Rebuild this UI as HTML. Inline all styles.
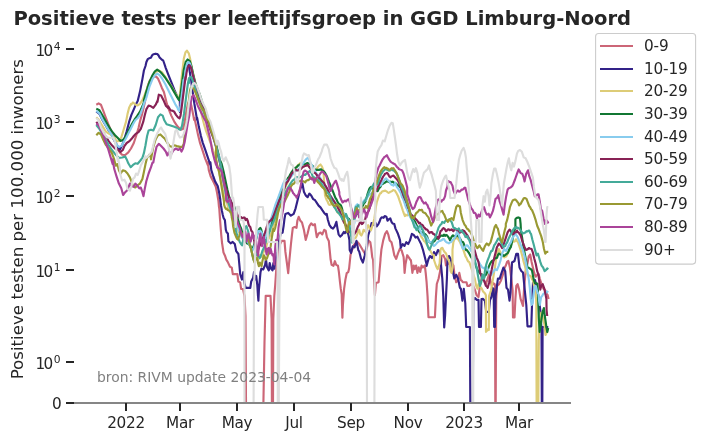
<!DOCTYPE html>
<html lang="nl"><head><meta charset="utf-8"><title>Positieve tests per leeftijfsgroep in GGD Limburg-Noord</title>
<style>html,body{margin:0;padding:0;background:#fff;}svg{display:block;will-change:transform;}text{font-family:"DejaVu Sans","Liberation Sans",sans-serif;fill:#262626;}.tk{font-size:15.28px;letter-spacing:-0.3px;}.lg{font-size:15.28px;letter-spacing:-0.15px;}.sup{font-size:10.7px;}.ln{fill:none;stroke-width:2.15;stroke-linejoin:round;stroke-linecap:butt;}</style></head><body>
<svg width="704" height="441" viewBox="0 0 704 441">
<rect width="704" height="441" fill="#fff"/>
<text x="13.40" y="25.00" style="font-size:19.55px;font-weight:bold;">Positieve tests per leeftijfsgroep in GGD Limburg-Noord</text>
<text transform="translate(22.80,219.20) rotate(-90)" text-anchor="middle" style="font-size:16.67px;">Positieve testen per 100.000 inwoners</text>
<defs><clipPath id="ax"><rect x="73.8" y="30" width="497" height="373.6"/></clipPath></defs>
<g clip-path="url(#ax)">
<polyline class="ln" stroke="#CC6677" points="96.3,104.7 98.6,103.4 100.9,104.7 103.3,110.9 105.6,117.2 108.0,123.5 110.3,128.9 112.7,133.6 115.0,139.9 117.4,146.9 119.7,152.4 122.1,154.7 125.2,155.0 128.3,152.4 131.0,148.5 133.8,143.0 136.1,136.0 138.5,128.1 140.3,120.3 142.1,114.1 143.6,107.8 145.0,101.6 147.5,86.9 149.4,81.4 151.4,78.4 153.9,76.8 156.1,76.5 157.9,78.4 159.9,82.9 161.9,87.9 163.9,91.9 165.4,97.9 166.9,103.9 168.2,107.8 171.3,115.6 174.4,121.9 177.6,126.6 180.7,129.7 183.0,128.9 184.6,121.9 186.2,112.5 187.7,104.7 188.8,102.0 189.6,101.5 190.4,102.9 191.4,105.9 192.4,110.9 193.4,115.9 194.1,119.9 194.4,117.7 196.3,126.6 198.2,135.6 200.1,143.2 202.7,150.9 205.2,158.6 207.8,165.0 207.8,162.4 208.8,170.1 210.7,176.5 213.3,181.6 215.8,186.7 217.1,193.1 218.4,200.7 219.0,207.1 219.3,208.9 219.9,217.6 220.4,224.4 221.3,235.5 222.0,242.6 223.5,252.6 224.9,255.4 226.3,259.7 227.7,261.9 230.0,266.7 231.8,267.6 232.8,274.1 237.4,274.1 238.3,281.5 240.2,282.4 241.1,288.9 243.0,289.0 244.5,296.0 245.5,316.0 246.0,403.5 263.4,403.5 264.5,342.0 265.7,295.8 270.5,295.8 271.6,319.0 271.9,403.5 273.0,403.5 273.3,319.0 274.3,296.0 275.2,285.2 276.2,270.4 277.1,261.2 278.0,251.9 279.9,244.5 281.7,240.9 284.5,240.9 285.4,251.9 286.9,263.0 288.2,273.2 289.1,263.0 290.0,253.8 290.9,244.5 291.9,235.3 292.8,227.9 294.6,227.0 296.5,227.9 297.4,220.5 298.7,216.8 300.2,220.5 302.0,222.4 303.9,229.8 305.7,239.9 307.6,233.5 309.4,226.1 311.2,223.3 313.1,225.2 314.9,224.2 315.9,231.6 316.8,237.2 318.6,233.5 320.5,232.5 322.3,234.4 324.2,229.8 325.7,230.7 326.9,237.2 328.8,240.9 329.7,250.1 330.6,259.3 331.6,264.9 333.4,265.8 334.9,261.2 336.2,264.9 338.0,265.8 338.9,272.2 339.9,281.5 340.8,288.9 341.7,294.4 342.0,305.0 342.4,317.6 342.9,305.0 344.1,288.9 345.4,279.6 346.7,273.2 348.2,272.2 349.1,268.6 350.5,255.0 352.0,250.0 353.7,245.5 355.5,243.0 357.4,242.0 359.2,244.0 361.0,247.0 363.0,250.5 364.8,253.3 366.6,249.6 368.5,240.4 370.3,242.2 371.2,247.8 372.2,257.0 373.1,260.0 374.0,278.5 374.9,295.1 375.9,283.1 378.6,282.2 379.5,271.1 380.5,260.0 380.5,258.9 381.4,249.6 383.2,240.4 385.1,233.9 386.9,231.2 388.4,234.9 389.7,240.4 391.5,242.2 392.8,247.8 394.3,255.2 396.2,258.9 398.0,253.3 399.9,248.7 401.7,250.6 403.6,257.0 404.0,262.0 404.6,273.0 405.5,264.0 407.2,255.2 409.1,257.9 410.9,260.7 410.9,260.0 412.4,272.9 413.7,265.5 414.6,269.2 416.1,265.5 417.4,272.9 418.7,267.4 420.2,272.0 421.6,265.5 422.9,267.4 424.8,265.5 425.7,272.9 426.6,282.2 427.6,296.9 428.5,317.2 434.9,317.2 435.9,296.9 436.8,284.0 438.6,278.5 440.1,271.1 441.4,260.0 441.4,256.1 443.3,255.2 445.1,258.9 446.0,265.3 448.0,264.0 450.0,262.0 452.0,263.0 453.4,265.5 454.3,272.9 456.2,282.2 458.0,280.3 459.3,272.9 460.8,280.3 461.5,280.4 462.8,282.2 466.5,282.2 467.4,285.9 469.2,285.9 471.1,284.1 473.3,285.9 474.8,289.6 476.6,295.2 478.5,297.0 479.9,285.9 481.2,280.4 482.5,274.9 484.0,280.4 485.9,284.1 487.7,278.6 489.2,273.9 490.5,280.4 491.8,285.9 493.2,283.2 494.7,284.1 495.0,286.0 495.3,403.5 495.7,403.5 496.2,300.0 497.0,286.0 499.1,284.1 501.0,280.4 502.8,274.9 504.3,268.4 505.8,265.6 507.1,261.9 508.4,261.0 509.9,267.5 511.3,278.6 512.6,290.0 513.0,317.5 514.5,317.5 515.4,299.0 516.3,285.9 517.6,284.1 519.1,289.6 520.6,298.9 521.9,302.6 523.0,306.0 524.0,290.0 525.6,271.2 527.4,263.8 528.7,256.4 530.2,254.5 531.6,261.9 532.9,267.5 534.2,273.0 535.7,276.7 537.2,274.9 538.5,273.9 539.8,278.6 540.9,282.2 542.2,285.9 543.5,288.7 544.9,289.6 546.4,293.3 547.7,295.2 548.6,298.9"/>
<polyline class="ln" stroke="#332288" points="96.3,111.3 99.4,113.8 102.5,119.9 105.6,125.3 108.8,130.8 111.9,135.7 114.2,140.3 116.6,145.0 118.6,148.0 120.0,149.4 122.1,145.3 124.4,139.1 126.7,131.3 129.1,121.9 131.4,114.9 133.8,109.4 136.1,103.9 137.7,101.0 140.0,91.6 142.4,79.1 143.9,70.5 145.5,66.0 146.4,62.0 147.7,59.2 149.1,58.3 150.9,57.8 152.3,55.1 153.6,54.2 155.5,53.7 157.3,54.0 158.6,55.5 159.5,57.4 160.9,58.7 162.3,60.1 163.2,60.5 164.1,63.0 165.8,68.1 168.2,74.4 171.3,82.2 174.4,90.0 177.6,97.1 179.9,101.0 179.9,107.0 179.9,112.0 180.0,110.0 181.2,103.0 182.6,94.0 184.0,84.0 185.4,75.0 186.6,68.5 187.6,65.2 188.4,64.3 189.0,66.0 189.5,69.9 190.4,75.9 191.4,81.9 191.9,87.9 192.4,90.0 193.4,96.9 194.4,103.9 195.4,109.9 196.4,115.9 197.1,119.9 197.1,117.7 198.8,126.6 200.8,135.6 202.7,142.6 205.2,149.6 207.8,157.3 210.4,165.0 210.4,162.4 211.3,170.1 213.3,176.5 215.2,181.6 217.7,186.0 219.0,191.8 220.3,199.5 220.3,200.3 221.0,205.5 221.9,210.7 222.8,215.0 223.6,218.0 224.9,220.1 225.3,224.4 225.8,229.6 226.6,232.2 227.9,233.5 228.4,241.2 230.6,243.3 232.7,241.9 234.8,244.0 236.2,251.1 238.4,254.0 239.2,263.0 240.2,274.1 242.0,279.6 243.3,272.2 244.4,283.3 245.7,287.9 250.3,287.9 251.2,281.5 253.1,277.8 254.0,272.2 254.9,279.6 256.2,275.9 257.3,285.2 258.0,296.0 258.4,300.6 258.9,290.0 260.5,272.2 261.4,268.6 263.2,269.5 265.1,264.9 266.0,259.3 266.9,266.7 268.8,270.4 269.7,263.0 271.0,268.6 272.5,270.4 273.4,263.0 274.3,268.6 275.2,261.2 277.1,251.9 278.9,240.9 280.8,233.5 282.6,232.5 283.6,226.1 284.5,218.7 285.4,213.9 288.2,212.9 290.9,215.7 293.7,213.9 295.6,208.3 297.4,200.9 299.2,193.6 301.1,186.2 302.4,183.4 303.9,191.7 305.7,195.4 307.6,197.2 309.4,193.6 311.2,195.4 313.1,199.1 314.9,200.0 316.8,202.8 318.6,205.6 320.5,207.4 322.3,210.2 324.2,212.9 326.0,214.8 326.7,213.9 327.8,219.5 329.5,225.2 331.2,227.5 333.0,228.6 334.7,226.4 336.4,221.8 337.5,228.6 338.6,234.3 340.3,236.6 342.0,234.9 343.8,232.0 344.9,233.2 346.6,230.9 348.3,234.3 349.4,240.0 349.7,250.1 351.0,252.9 352.8,246.4 354.6,247.3 356.5,240.9 358.3,250.1 359.2,251.5 361.1,258.9 362.9,262.6 364.8,255.2 366.6,245.9 367.6,240.0 368.2,235.5 369.3,232.0 370.5,227.5 371.6,223.0 372.7,224.1 374.4,225.2 375.6,223.0 376.7,226.4 378.4,224.1 379.5,221.8 380.7,218.4 381.8,217.3 383.5,217.8 384.7,216.1 386.4,216.7 387.5,220.7 388.6,219.5 390.3,218.4 391.5,221.8 392.6,223.5 394.3,224.1 395.5,228.6 396.6,230.9 397.7,233.2 398.9,236.6 400.0,240.0 400.8,247.8 402.6,244.1 404.5,245.9 406.3,242.2 408.2,244.1 410.0,240.4 411.9,233.9 413.7,234.9 415.6,237.6 417.4,236.7 419.2,240.4 421.1,244.1 422.9,249.6 424.8,257.0 426.6,264.4 426.6,266.0 427.4,263.0 428.5,259.0 430.0,256.0 432.0,258.0 434.0,252.0 436.0,255.0 438.0,250.0 439.6,251.5 440.5,258.9 441.4,269.2 442.3,278.5 443.3,296.9 444.2,327.4 445.1,315.4 446.0,296.9 446.9,278.5 447.5,259.0 449.0,256.0 450.6,258.9 452.5,269.2 454.3,278.5 456.2,274.8 458.0,278.5 459.9,287.7 460.9,288.8 462.4,300.6 463.8,288.8 465.3,303.5 466.2,327.0 469.9,327.0 470.3,403.5 472.8,403.5 473.3,300.0 475.0,298.0 476.6,299.8 478.5,299.8 479.0,327.0 480.9,327.0 481.5,299.0 483.1,298.9 484.9,300.7 486.2,312.0 488.8,312.0 490.0,300.0 491.4,297.0 492.6,288.0 493.6,289.0 494.2,327.0 494.9,327.0 495.6,296.0 497.9,278.6 499.7,278.6 501.5,273.0 503.4,267.5 505.2,271.2 506.5,287.8 508.0,289.6 509.5,300.7 510.5,292.5 512.0,262.5 514.5,261.0 516.3,253.8 518.0,253.8 519.5,267.5 521.3,271.0 523.0,272.5 524.5,287.5 526.3,305.0 527.5,326.3 531.3,326.3 532.0,305.0 533.0,282.5 535.0,280.0 537.0,288.0 539.0,300.0 540.5,312.0 541.5,330.0 541.8,403.5 542.3,403.5 542.6,327.0 548.3,327.0"/>
<polyline class="ln" stroke="#DDCC77" points="96.3,117.2 98.6,119.5 100.9,123.5 103.3,127.4 105.6,131.3 108.8,133.6 111.9,135.2 114.2,137.5 116.6,141.4 118.9,141.0 121.3,137.5 123.6,129.7 126.0,121.9 127.5,114.1 129.1,107.8 131.0,103.9 131.0,104.9 133.0,102.5 135.3,104.4 137.7,105.4 140.0,103.8 142.4,100.2 144.7,94.7 147.1,88.5 149.4,82.2 152.5,76.3 155.7,72.1 158.8,70.5 161.9,72.1 165.1,76.7 168.2,81.4 171.3,86.1 174.4,91.6 177.6,96.3 179.4,98.6 180.7,86.9 182.3,71.3 183.8,58.8 185.4,52.5 186.9,50.6 188.8,53.3 190.1,58.8 191.6,66.6 193.5,75.2 195.5,83.8 197.9,90.8 199.9,95.5 200.8,110.0 202.0,116.4 204.0,124.1 205.9,130.5 207.8,135.6 210.4,142.6 212.9,149.6 215.5,157.3 216.7,163.7 219.0,172.0 221.0,181.0 223.0,190.0 225.0,198.0 226.0,200.5 227.0,203.3 228.0,207.1 229.0,209.8 230.0,211.8 231.0,213.9 232.0,215.7 233.0,217.0 234.0,218.0 235.0,221.8 236.0,225.1 237.0,228.2 238.0,230.2 239.0,232.3 240.0,232.7 241.0,234.1 242.0,236.3 243.0,238.1 244.0,237.0 245.0,235.1 246.0,237.7 247.0,240.8 248.0,242.2 249.0,244.2 249.8,246.0 250.7,246.2 251.6,250.7 252.5,255.3 254.0,257.3 255.0,255.2 256.0,253.7 257.0,257.3 258.0,260.1 259.0,257.5 260.0,254.9 261.0,256.0 262.0,257.0 263.0,253.8 264.0,251.1 265.0,250.0 266.0,247.7 267.0,243.8 268.0,240.0 269.4,237.1 270.7,234.4 272.1,231.6 273.5,226.0 275.3,221.0 277.0,213.5 278.0,211.7 279.0,208.7 280.0,204.7 281.0,200.7 282.0,196.9 283.0,193.7 284.0,190.8 285.0,187.8 286.0,185.7 287.0,183.8 288.0,181.0 289.0,178.6 290.0,176.4 291.0,174.8 292.0,173.4 293.0,171.8 294.0,170.3 295.0,168.5 296.1,168.2 297.2,166.1 298.4,164.8 299.2,164.1 300.1,163.1 300.9,163.4 301.8,164.2 302.6,164.6 303.5,165.3 304.6,165.7 305.8,165.9 306.9,165.7 308.0,165.3 309.2,165.8 310.3,166.5 311.4,167.5 312.6,168.2 313.5,169.0 314.5,169.9 315.5,169.3 316.5,169.3 317.4,167.6 318.2,166.5 319.4,165.4 320.5,164.5 322.0,166.6 323.4,170.5 324.0,180.3 325.0,195.4 325.9,198.2 326.7,200.2 327.6,201.5 328.4,203.6 329.3,204.9 330.1,204.8 331.0,204.6 331.8,203.1 332.9,204.6 334.0,206.5 335.0,207.3 336.0,208.4 337.0,211.5 338.0,213.1 339.0,213.2 340.0,213.1 341.0,214.6 342.0,215.9 343.0,218.6 344.0,219.9 345.0,222.5 346.0,225.0 347.0,227.3 348.0,229.8 349.0,231.2 350.0,233.4 351.0,235.3 352.0,237.4 353.0,238.7 354.0,238.3 354.8,238.6 355.7,237.7 356.8,235.5 358.0,232.0 359.1,229.8 360.2,234.3 361.4,235.5 362.5,233.2 363.6,229.8 364.8,230.9 365.9,232.0 367.0,228.6 368.2,225.2 369.0,226.9 369.9,228.6 371.0,230.3 372.2,226.4 373.3,223.0 374.4,218.4 375.0,213.6 375.9,207.0 376.7,202.5 377.8,199.1 379.0,195.7 380.1,193.4 381.0,193.2 381.8,191.7 382.7,191.3 383.5,191.1 384.4,190.9 385.2,190.6 386.1,191.1 386.9,191.7 387.8,192.3 388.6,192.8 389.5,192.5 390.3,191.7 391.2,191.5 392.0,191.1 393.2,190.0 394.0,190.3 394.9,190.6 396.0,192.3 397.2,194.5 398.3,196.8 399.4,200.2 400.6,203.6 401.7,207.0 402.8,210.5 404.0,213.9 404.9,216.1 405.4,214.5 406.3,215.3 407.2,215.5 408.2,214.6 409.1,212.7 410.0,214.8 410.9,216.4 411.9,218.4 412.8,219.2 414.0,221.0 415.0,224.4 416.0,225.7 417.0,226.8 418.0,228.2 419.0,230.4 420.0,232.4 421.0,236.3 422.0,237.7 423.0,239.3 424.0,241.0 425.0,241.7 426.0,243.4 427.0,244.8 428.0,246.6 429.0,248.1 430.0,250.0 431.0,252.0 432.0,253.8 433.0,254.8 434.0,255.2 434.0,260.0 435.9,265.5 436.8,267.7 437.7,269.2 439.6,263.7 440.5,249.6 441.4,248.2 442.3,247.8 443.3,249.8 444.2,251.5 445.1,252.6 446.0,253.3 447.9,258.9 448.8,260.8 449.7,262.6 450.6,271.1 451.6,272.9 452.5,267.4 452.5,249.6 453.4,242.2 454.3,239.6 455.3,238.6 456.2,238.4 457.1,237.6 458.0,238.9 458.9,240.4 459.9,241.9 460.9,244.2 461.8,245.3 463.7,250.9 465.5,256.4 466.5,257.8 467.4,260.1 468.3,261.6 469.2,261.9 471.1,267.5 472.9,273.0 474.8,278.6 476.2,285.9 477.5,288.7 478.5,284.1 479.4,285.9 480.3,286.9 481.2,287.7 482.2,289.6 483.1,291.5 484.0,292.4 484.9,293.2 485.9,295.2 485.9,298.0 486.0,331.9 486.9,330.9 487.9,329.1 488.8,330.0 489.0,296.2 491.0,290.3 493.0,279.1 495.0,266.9 496.9,252.7 497.9,251.4 498.8,249.0 499.7,251.1 500.6,252.7 501.5,254.3 502.5,254.5 503.4,256.6 504.3,257.3 505.2,256.7 506.2,256.4 507.1,254.7 508.0,252.7 509.0,250.6 510.0,247.9 511.0,245.3 512.0,242.7 513.0,241.4 514.0,241.7 515.0,241.3 516.0,239.3 517.0,241.1 518.1,242.4 519.1,245.3 520.9,250.9 522.4,256.4 523.7,261.9 525.0,266.3 526.5,273.0 527.6,273.9 528.7,275.2 529.9,275.7 531.1,276.7 532.0,279.1 532.9,280.4 534.2,285.9 535.3,291.5 536.1,298.9 536.3,306.0 536.6,403.5 537.5,403.9 538.3,403.5 538.8,340.0 539.5,325.0 541.3,312.5 542.1,314.9 543.0,318.2 544.5,325.0 545.5,335.0 546.5,333.0 547.5,330.0 548.3,330.0"/>
<polyline class="ln" stroke="#117733" points="96.3,108.6 99.4,110.2 102.5,115.6 105.6,121.1 108.8,126.6 111.9,131.3 115.0,135.2 118.1,138.3 120.5,141.0 122.8,139.9 125.2,137.5 127.5,132.8 129.9,128.1 132.2,123.5 134.6,119.5 136.9,116.4 140.0,111.7 142.4,106.3 143.9,102.3 143.9,100.2 146.3,91.6 149.4,82.2 152.5,75.2 154.9,71.3 157.2,69.7 159.6,71.3 161.9,73.6 165.1,77.5 168.2,82.2 171.3,86.9 174.4,92.4 177.6,97.9 179.1,100.2 180.7,93.2 182.3,80.7 183.8,69.7 185.7,61.9 187.7,59.5 189.8,61.1 191.3,65.8 193.2,74.4 195.1,82.2 197.9,90.0 199.9,94.7 204.6,110.0 206.5,115.1 208.4,121.5 210.4,127.9 212.3,133.0 214.2,138.1 216.1,144.5 218.0,152.2 219.9,159.9 221.6,163.7 223.5,171.3 225.4,180.3 227.3,189.2 229.2,196.9 231.8,203.3 232.6,204.4 233.5,205.3 234.4,207.1 235.3,209.1 236.3,211.0 238.0,219.4 239.0,223.1 240.0,225.9 241.0,228.1 242.0,231.7 243.0,234.1 244.0,236.8 245.0,239.9 246.0,242.0 247.0,243.5 248.0,243.7 249.0,244.2 250.0,245.7 251.0,247.8 252.0,248.3 253.0,247.5 254.0,245.2 255.0,242.0 256.0,239.7 258.0,231.2 259.4,228.8 260.3,227.9 261.1,229.2 261.6,231.3 263.0,237.5 264.0,238.9 265.0,239.4 266.0,237.0 267.0,234.6 268.0,231.7 269.0,229.7 270.0,227.4 271.0,224.8 272.0,221.5 273.0,218.4 274.0,215.5 275.0,213.0 276.0,210.1 277.0,206.8 278.0,204.0 279.0,200.7 280.0,196.6 281.0,192.9 282.0,190.6 283.0,189.3 284.0,186.9 285.0,184.5 286.0,182.4 287.0,180.1 288.0,177.9 289.0,177.0 290.0,174.9 291.0,173.2 292.0,171.7 293.0,170.1 294.0,168.4 295.0,167.9 296.0,167.5 297.2,166.6 298.4,165.3 299.3,165.2 300.3,164.4 301.2,164.2 302.2,164.3 303.1,164.2 304.0,164.2 305.2,164.0 306.3,163.6 307.5,163.1 308.4,163.4 309.3,163.8 310.3,164.2 311.4,165.1 312.6,165.9 313.4,167.3 314.3,168.8 315.4,169.6 316.5,169.9 317.7,169.8 318.8,169.9 320.0,169.6 321.1,169.3 322.2,170.4 323.4,171.0 324.5,172.2 325.6,173.9 326.5,175.6 327.3,177.3 329.0,181.8 331.3,187.5 333.6,193.2 335.3,197.7 336.1,198.8 337.0,200.6 338.0,202.8 339.0,203.9 340.0,204.4 341.0,205.5 342.0,208.4 343.0,212.8 344.0,213.8 345.0,214.2 346.0,215.5 347.0,217.5 348.0,218.4 349.0,218.9 350.0,220.7 351.0,221.7 352.0,222.0 353.0,221.2 354.0,220.7 355.0,217.7 356.0,215.2 357.0,213.9 358.0,213.3 359.0,212.5 360.0,210.0 361.0,208.3 361.9,207.1 362.9,205.5 363.8,203.5 364.8,202.5 365.7,200.7 367.5,194.2 369.4,188.7 370.3,187.5 371.2,186.8 372.2,187.9 373.1,189.0 374.0,189.6 374.9,190.0 375.9,190.5 376.8,190.9 377.7,191.1 378.6,189.1 379.5,187.9 380.5,186.8 381.4,184.8 382.3,184.0 383.2,183.7 384.2,182.9 385.1,182.6 386.0,181.8 386.9,181.1 387.9,181.6 388.8,181.8 389.7,182.4 390.7,181.7 391.8,182.1 392.8,181.6 393.9,182.9 395.1,182.9 396.2,183.9 397.1,184.4 398.0,185.7 398.9,185.7 399.9,187.1 400.8,187.6 402.0,191.5 403.0,195.0 404.0,198.4 405.0,202.0 406.0,204.9 407.0,207.1 408.0,210.2 409.0,213.1 410.0,215.6 411.0,217.6 412.0,218.6 413.0,218.8 414.0,220.5 415.0,221.7 416.0,224.0 417.0,226.2 418.0,228.9 419.0,231.5 420.0,232.4 421.0,232.6 422.0,232.2 423.0,232.7 424.0,233.7 425.0,234.1 426.0,235.1 427.0,236.4 428.0,239.3 429.0,241.7 430.0,242.5 431.0,242.7 432.0,244.3 433.0,242.2 434.0,241.4 435.0,240.4 436.0,238.8 437.0,237.6 438.0,238.8 439.0,237.5 440.0,236.6 441.0,235.6 442.0,235.6 443.0,236.0 444.0,234.7 445.0,235.9 446.0,234.9 447.0,235.3 448.0,236.6 449.0,238.1 450.0,240.2 451.0,238.1 452.0,236.3 453.0,235.3 454.0,236.0 455.0,237.3 456.0,235.8 457.0,235.4 458.0,236.0 459.0,237.0 460.0,238.5 461.0,240.5 462.0,241.9 463.0,242.0 464.0,244.3 465.0,247.7 466.0,250.1 467.0,250.0 468.0,251.7 469.0,253.0 470.0,255.0 471.0,256.9 472.0,258.4 473.0,260.5 474.0,262.0 475.0,263.1 476.0,266.1 477.0,268.8 478.0,270.9 479.0,272.1 480.0,273.3 481.0,274.2 482.0,274.5 483.0,276.6 484.0,277.8 485.0,274.9 486.0,274.7 487.0,272.5 488.0,268.9 489.0,266.2 490.0,263.9 491.0,262.2 492.0,260.9 493.0,260.8 494.0,259.5 495.0,258.5 496.0,258.1 497.0,257.8 498.0,254.8 499.0,253.5 500.0,254.4 501.0,254.9 502.0,255.4 503.0,255.0 504.0,255.9 505.0,255.2 506.0,254.4 507.0,253.7 508.0,252.7 509.5,249.0 510.8,247.2 512.1,241.6 513.2,236.1 514.5,230.5 515.4,227.8 515.4,223.9 515.4,219.2 516.3,218.3 517.2,217.8 518.2,217.4 519.1,217.8 520.0,218.3 520.6,223.9 520.9,230.3 522.0,236.9 523.5,247.0 525.0,254.9 526.5,263.0 527.5,267.5 528.8,267.7 530.0,268.8 531.0,269.3 532.0,270.5 533.8,280.0 535.0,283.3 536.2,283.2 537.5,283.8 538.2,300.0 538.8,318.0 539.6,332.0 540.6,326.0 541.6,318.0 542.6,312.0 543.9,308.0 544.8,316.0 545.7,322.0 546.5,328.0 547.3,332.0 548.2,328.0"/>
<polyline class="ln" stroke="#88CCEE" points="96.3,110.9 99.4,113.3 102.5,119.5 105.6,125.0 108.8,130.5 111.9,135.2 114.2,139.9 116.6,144.6 118.9,146.9 121.3,146.1 123.6,142.2 126.0,138.3 128.3,133.6 130.7,128.9 133.0,124.2 135.3,120.3 137.7,118.0 140.0,114.9 142.4,108.6 144.4,102.3 144.7,101.8 146.3,97.9 149.4,86.9 152.5,79.1 154.9,75.2 157.2,73.6 159.6,75.2 161.9,78.3 165.1,83.8 168.2,90.0 171.3,96.3 175.2,104.1 177.6,108.0 178.0,109.4 179.5,110.9 180.5,105.9 181.5,97.9 182.5,89.0 183.5,80.0 184.5,78.9 185.5,70.9 186.5,65.4 187.5,62.9 188.8,62.2 189.9,63.4 190.9,66.4 191.5,70.0 193.0,76.0 194.5,82.0 196.0,88.0 197.5,93.5 199.0,98.5 201.0,104.0 203.0,109.0 203.8,110.0 205.8,115.1 207.7,121.5 209.6,127.9 211.5,133.0 213.4,138.1 215.3,144.5 217.3,152.2 219.2,159.9 219.2,156.0 219.7,161.1 221.3,168.8 222.8,177.7 224.8,188.0 226.7,198.2 228.6,203.3 229.7,207.2 230.5,210.7 232.0,215.3 233.0,216.0 234.0,218.7 235.0,219.2 236.0,220.6 237.0,223.6 238.0,227.3 239.0,230.9 240.0,233.0 241.0,235.7 242.0,238.2 243.0,238.8 244.0,239.6 245.0,239.1 246.0,237.6 247.0,240.1 248.0,242.1 249.0,244.1 250.0,246.1 251.0,248.5 252.0,251.3 253.0,249.4 254.0,247.8 255.0,243.4 256.0,239.5 258.0,231.1 259.4,231.6 260.3,230.7 261.1,232.0 262.0,233.1 263.0,235.7 264.0,239.4 265.0,238.5 266.0,236.1 267.0,233.2 268.0,230.5 269.0,227.3 270.0,223.0 270.8,219.4 271.6,217.0 275.3,205.0 277.3,200.0 280.2,192.0 283.0,184.1 284.2,181.5 285.3,180.1 286.4,180.8 287.6,180.7 288.8,179.2 290.0,178.1 291.0,176.7 292.0,175.3 293.0,174.1 294.0,172.7 295.0,171.6 296.0,170.8 297.2,170.0 298.5,169.0 299.6,168.3 300.6,167.0 301.8,165.2 302.9,163.6 304.0,162.1 305.2,160.2 306.3,159.0 307.5,158.0 308.3,158.7 309.2,159.7 310.3,162.5 311.1,164.0 312.0,165.6 312.9,167.7 313.7,169.3 314.6,170.3 315.4,171.6 317.0,174.8 318.0,175.6 319.0,176.7 320.0,177.3 321.0,179.6 322.0,182.2 323.0,183.8 324.0,184.2 325.0,185.5 326.0,186.7 327.0,188.6 328.0,190.6 329.0,192.7 330.0,195.3 331.0,196.6 332.0,197.8 333.0,199.1 334.0,201.0 335.0,203.1 336.0,203.9 337.0,204.6 338.0,205.7 339.0,208.2 340.0,211.0 341.0,211.5 342.0,211.2 343.0,211.7 344.0,213.6 345.0,215.4 346.0,216.5 347.0,217.0 348.0,218.9 349.0,220.9 349.9,223.4 350.9,224.3 352.7,229.8 354.5,222.5 355.7,206.0 356.5,205.1 357.4,204.2 358.2,205.0 359.0,205.5 360.0,204.8 361.0,204.6 362.0,203.2 363.0,201.9 364.0,200.7 365.0,199.5 366.0,200.4 367.0,198.0 368.0,196.3 369.0,194.9 370.0,194.3 371.0,193.8 372.0,192.7 373.0,191.7 374.0,188.7 375.0,187.0 376.0,186.1 377.0,185.1 378.0,183.6 379.0,181.6 380.5,185.7 381.4,184.2 382.3,183.0 383.2,181.1 384.2,180.2 385.1,179.1 386.0,178.3 386.9,179.3 387.9,180.2 388.8,181.0 389.7,182.0 390.6,183.6 391.5,184.8 392.5,184.8 393.4,185.7 394.3,184.5 395.2,182.9 396.1,185.1 397.0,187.3 398.0,188.4 399.0,189.8 400.0,191.8 401.0,193.5 402.0,197.2 403.0,198.7 404.0,201.4 405.0,204.4 406.0,207.3 407.0,209.2 408.0,212.0 409.0,214.7 410.0,216.7 411.0,218.5 412.0,219.6 413.0,221.2 414.0,223.3 415.0,224.8 416.0,226.7 417.0,227.8 418.0,228.3 419.0,229.0 420.0,230.5 421.0,232.3 422.0,234.5 423.0,235.2 424.0,235.7 425.0,236.5 426.0,236.4 427.0,238.0 428.0,239.5 429.0,241.4 430.0,242.4 431.0,241.9 432.0,242.2 433.0,244.8 434.0,246.0 435.0,245.2 436.0,244.1 437.0,242.8 438.0,242.0 439.0,241.1 440.0,241.0 441.0,240.6 442.0,240.0 443.0,239.1 444.0,239.0 445.0,240.8 446.0,241.8 447.0,242.5 448.0,242.8 449.0,243.4 450.0,242.3 451.0,242.1 452.0,240.8 453.0,239.8 454.0,238.8 455.0,237.2 456.1,234.8 457.1,231.2 458.0,233.4 458.9,234.9 461.8,246.2 462.8,248.7 463.7,249.0 464.6,247.4 465.5,246.2 466.5,245.4 467.4,245.3 468.3,246.5 469.2,248.1 470.2,249.2 471.1,250.9 472.0,251.6 472.9,253.1 473.8,254.9 474.8,255.5 475.7,257.8 476.6,258.6 477.5,259.7 478.5,261.9 479.4,262.9 480.3,264.7 481.2,265.8 482.2,267.5 483.1,267.7 484.0,268.4 484.9,268.0 485.9,266.5 486.8,267.6 487.7,269.3 488.6,270.9 489.5,273.0 490.5,274.6 491.4,274.9 492.3,272.8 493.2,272.1 494.2,270.4 495.1,269.3 496.0,269.6 496.9,270.2 498.8,265.6 500.6,260.1 502.5,252.7 503.4,250.8 504.3,249.0 505.2,250.5 506.2,250.9 507.1,248.8 508.0,247.2 508.9,245.3 509.9,243.5 510.8,242.6 511.7,239.8 512.6,238.1 513.6,236.1 514.5,233.6 515.4,233.3 516.3,235.4 517.2,236.1 519.1,240.7 520.9,245.3 522.8,249.9 524.6,256.4 526.1,263.8 527.4,271.2 528.7,278.6 529.8,287.8 530.7,298.9 531.6,305.0 532.6,303.5 533.5,295.2 534.6,286.9 535.7,285.9 537.2,291.5 538.5,294.2 539.2,301.6 539.8,305.0 540.5,300.7 541.2,297.0 542.2,295.9 543.1,294.2 544.0,293.6 544.9,292.4 545.9,293.1 546.8,291.5 548.3,292.4"/>
<polyline class="ln" stroke="#882255" points="96.3,121.9 99.4,125.8 102.5,131.3 105.6,136.0 108.8,141.4 111.9,145.3 115.0,148.5 118.1,150.0 120.5,151.9 122.8,150.0 124.4,146.1 126.7,143.0 129.1,141.4 131.4,139.1 133.8,136.0 136.1,133.6 138.5,132.1 140.8,128.9 143.2,121.9 144.7,115.6 146.3,109.4 148.6,105.5 151.0,106.3 153.3,107.8 155.7,104.7 157.5,100.8 157.5,101.8 158.8,94.7 161.1,95.5 163.5,100.2 165.8,105.7 168.2,108.0 168.2,106.3 170.5,110.2 172.9,110.9 174.0,111.4 176.0,114.9 178.0,117.4 179.5,118.4 180.5,115.9 181.5,108.9 182.5,100.9 183.5,93.0 184.5,85.0 185.5,77.0 185.5,79.9 186.5,72.9 187.5,67.9 188.5,65.7 189.5,65.2 190.7,66.9 191.9,70.9 193.1,75.9 194.4,80.9 195.4,85.9 197.0,92.0 198.5,97.0 200.0,101.5 202.0,106.0 204.0,110.0 205.9,115.1 207.8,121.5 209.7,127.9 211.6,133.0 213.5,138.1 215.5,144.5 217.4,152.2 219.3,159.9 220.3,164.9 222.0,172.0 223.5,179.0 225.4,186.7 227.3,193.1 229.2,198.2 230.1,200.0 231.0,201.6 232.0,203.3 233.0,206.6 234.0,210.4 235.0,210.6 236.0,211.7 237.0,213.7 238.0,215.8 239.0,216.9 240.0,217.3 241.0,217.0 242.2,218.4 243.4,217.6 244.7,217.6 245.6,220.1 246.9,218.8 247.8,221.0 248.6,224.4 249.5,226.2 250.3,227.0 251.2,230.5 252.5,232.2 253.6,238.0 255.3,246.2 256.2,250.7 257.1,254.4 258.0,250.3 259.4,246.2 260.7,243.5 262.0,241.1 263.0,238.5 264.0,235.5 265.0,232.7 266.0,229.6 267.0,226.0 268.0,223.0 268.9,222.0 269.8,220.9 270.7,220.5 271.6,219.4 272.6,217.8 273.5,216.0 276.2,208.7 278.9,201.5 279.8,199.5 280.7,198.3 281.6,196.0 283.2,191.0 284.7,187.5 285.9,184.1 287.0,182.3 288.1,181.1 289.3,178.4 290.4,176.5 291.5,173.9 292.7,172.6 293.8,171.0 295.0,170.7 296.1,169.9 297.2,170.5 298.4,170.5 299.5,169.7 300.6,169.3 301.8,168.0 302.9,167.0 304.0,166.6 305.2,165.9 306.3,165.5 307.5,164.8 308.3,165.8 309.2,167.0 310.0,168.0 310.9,169.3 311.7,170.6 312.6,171.4 313.4,172.0 314.3,172.7 315.1,173.0 316.0,173.9 317.0,175.4 318.0,177.0 319.0,178.1 320.0,178.9 321.0,180.0 322.0,181.2 323.0,182.0 324.0,182.9 325.0,185.2 326.0,186.6 327.0,188.2 327.8,190.0 328.7,191.9 329.5,194.5 330.7,196.2 331.8,198.0 333.0,200.0 334.1,201.4 335.2,203.0 336.4,204.8 337.2,206.1 338.1,208.2 338.9,209.5 339.8,211.6 341.5,216.1 343.2,220.7 344.3,223.0 345.2,224.3 346.0,226.0 347.0,228.2 348.0,231.5 349.0,231.9 350.0,231.6 351.0,231.5 352.0,232.7 353.0,233.9 354.0,234.7 355.0,233.0 356.0,231.6 357.0,228.8 358.0,226.3 358.8,225.2 359.7,223.0 360.8,221.8 361.9,224.1 363.1,223.0 364.2,220.7 365.1,219.8 366.0,215.6 367.0,213.0 368.0,211.9 369.0,210.2 370.0,207.1 371.0,202.4 372.0,198.4 373.0,197.3 374.0,194.2 375.0,192.2 376.0,190.5 376.8,189.6 377.7,187.6 378.6,185.8 379.5,183.9 380.5,181.8 381.4,180.2 382.3,178.1 383.2,176.5 384.2,175.1 385.1,173.7 386.0,173.4 386.9,172.8 387.9,173.8 388.8,175.6 389.7,176.8 390.6,177.4 391.5,176.2 392.5,176.0 393.4,175.6 394.3,176.5 395.2,177.4 396.1,178.5 397.0,179.3 398.0,180.8 399.0,182.8 400.0,185.5 401.0,188.6 402.0,191.1 403.0,193.9 404.0,196.6 405.0,199.1 406.0,201.1 407.0,203.3 408.0,207.3 409.0,208.8 410.0,212.6 411.0,214.7 412.0,215.2 413.0,216.3 414.0,216.9 415.0,218.3 416.0,219.4 417.0,220.3 418.0,221.6 419.0,223.3 420.0,222.8 421.0,224.8 422.0,224.7 422.9,225.6 423.9,227.5 424.8,227.9 425.7,229.3 426.6,229.3 427.6,230.2 428.5,231.6 429.4,233.0 430.3,232.3 431.2,232.1 432.2,232.4 433.1,233.9 434.0,234.1 434.9,234.9 435.9,236.1 436.8,236.7 437.7,237.4 438.6,238.6 440.5,231.2 441.4,230.6 442.3,229.3 443.3,228.1 444.2,228.4 445.1,229.5 446.0,231.2 446.9,230.6 447.9,229.3 448.8,229.3 449.7,230.2 450.6,230.0 451.6,229.3 452.5,230.2 453.4,231.2 454.3,229.7 455.3,229.3 456.2,229.3 457.1,230.2 458.0,230.1 458.9,231.2 459.9,232.7 460.8,232.1 461.7,231.3 462.6,230.2 463.6,230.7 464.5,231.2 465.4,232.7 466.3,233.9 467.2,235.1 468.0,236.6 469.0,238.6 470.0,240.1 471.0,241.8 472.0,243.0 472.9,243.5 474.8,250.9 476.6,257.3 478.5,261.9 480.3,273.0 482.2,278.6 483.1,280.0 484.0,280.4 485.9,285.9 486.8,286.4 487.7,287.8 489.2,282.2 490.5,274.9 491.8,269.3 493.2,261.9 495.1,254.5 496.9,247.2 497.9,245.5 498.8,243.5 499.7,244.3 500.6,245.3 502.1,248.1 503.9,243.5 505.8,237.9 507.6,232.4 508.6,230.8 509.5,229.6 510.4,230.4 511.3,232.4 512.3,232.3 513.2,234.2 514.1,233.4 515.0,232.4 516.0,232.3 516.9,230.5 517.8,232.3 518.7,232.4 519.6,234.1 520.6,235.2 521.9,239.8 523.2,243.5 524.6,247.2 526.1,249.9 527.0,249.7 528.0,249.0 528.9,248.0 529.8,248.6 530.7,248.7 531.6,249.0 532.9,252.7 534.2,258.2 535.7,263.8 537.2,271.2 538.5,274.9 539.4,282.2 540.3,289.6 541.2,285.9 542.7,284.1 544.0,287.8 545.3,293.3 546.4,298.9 546.6,310.0 547.2,316.0"/>
<polyline class="ln" stroke="#44AA99" points="96.3,125.0 99.4,128.9 102.5,134.4 105.6,139.9 108.8,145.3 111.9,150.0 115.0,153.9 118.9,157.9 122.1,157.5 125.2,156.6 126.7,159.4 128.3,163.3 130.7,167.2 133.0,164.9 135.3,163.3 137.7,163.8 140.0,161.0 142.4,157.9 143.9,153.2 145.5,145.3 147.1,136.0 148.6,130.5 151.0,129.7 153.3,130.5 155.7,125.0 158.0,117.2 160.4,114.4 162.7,115.6 164.3,120.3 166.6,124.2 169.0,125.0 171.3,125.8 173.7,126.6 176.0,127.4 178.3,128.9 180.4,129.7 182.0,126.0 183.0,119.9 184.0,113.9 185.0,105.9 186.0,97.9 187.0,90.0 188.0,83.0 189.0,78.0 189.0,82.9 189.2,78.4 190.4,76.9 191.7,77.9 192.9,81.4 194.4,85.9 195.9,91.0 197.4,95.9 198.9,100.9 200.9,105.9 202.9,109.9 204.4,113.9 205.9,117.9 207.2,115.8 209.1,122.1 211.0,128.5 212.9,134.3 214.8,140.7 216.7,148.4 218.7,156.0 219.7,161.1 221.3,168.8 222.8,177.7 224.8,188.0 226.7,198.2 228.6,203.3 230.5,208.4 232.0,213.7 233.5,219.0 235.0,224.9 236.0,231.0 237.1,235.3 238.9,239.8 239.8,242.0 240.7,243.5 242.1,245.3 243.5,238.0 245.2,227.0 246.5,226.2 247.3,228.8 248.2,231.3 249.8,244.4 251.2,248.9 252.5,255.3 253.5,259.8 255.0,256.0 256.2,253.5 257.1,255.3 258.5,256.2 259.8,258.0 260.7,256.2 261.6,253.5 262.5,250.7 264.0,247.5 265.0,244.5 266.0,241.3 267.0,239.2 268.0,236.8 269.0,232.9 270.0,231.0 270.8,227.6 271.6,226.0 274.4,219.6 277.1,211.5 279.8,205.1 282.5,198.7 284.5,194.0 285.8,191.7 287.0,189.5 288.0,187.4 289.0,186.3 290.0,184.3 291.0,182.8 292.0,181.4 293.0,180.2 294.0,179.7 295.0,178.5 296.0,177.4 297.0,177.0 298.0,177.2 299.0,177.6 300.0,177.0 301.0,176.8 302.0,176.0 303.1,175.3 304.1,174.8 305.2,175.0 306.3,173.8 307.5,172.7 308.6,172.1 309.7,171.0 310.6,172.0 311.4,172.7 313.1,177.3 314.3,177.4 315.4,178.4 316.5,179.2 317.7,179.5 318.8,181.0 320.0,181.8 321.1,183.3 322.2,185.2 323.4,187.3 324.5,188.6 325.6,190.4 326.8,192.0 327.9,193.1 329.0,193.8 330.0,196.3 331.0,199.6 332.0,202.2 333.0,204.0 334.1,207.0 335.2,208.2 336.4,210.5 337.5,212.1 338.6,212.7 339.8,214.8 340.9,216.1 341.8,217.7 342.6,219.5 343.5,218.9 344.3,217.3 345.2,215.6 346.0,213.9 347.7,218.4 349.4,225.2 350.6,232.0 351.4,237.7 351.8,242.5 352.7,235.2 353.6,224.3 354.5,212.7 355.7,207.0 356.9,207.4 358.0,205.3 359.0,206.3 360.0,207.5 361.0,205.4 362.0,204.1 363.0,203.2 364.0,202.2 365.0,200.9 366.0,198.9 367.0,196.8 368.0,194.2 369.0,192.1 370.0,190.4 371.0,188.7 372.0,187.2 373.0,185.6 374.0,183.6 375.0,182.3 376.0,180.8 376.8,182.2 377.7,183.9 379.5,178.3 381.4,173.7 382.3,172.6 383.2,170.9 384.2,170.3 385.1,169.3 386.0,169.1 386.9,169.7 387.9,170.0 388.8,170.6 389.7,170.6 390.6,170.2 391.5,169.5 392.5,169.8 393.4,170.6 394.3,170.9 395.2,172.0 396.2,172.8 397.1,174.6 398.0,176.5 399.9,182.0 400.9,185.2 402.0,188.6 403.0,190.4 404.0,193.6 405.0,196.4 406.0,199.3 407.0,203.1 408.0,205.5 409.0,207.7 410.0,211.6 410.9,215.9 411.9,219.8 412.8,221.9 414.6,227.5 415.6,227.8 416.5,230.2 417.4,229.2 418.3,227.5 419.2,226.6 420.2,225.6 421.1,226.7 422.0,229.3 422.9,230.0 423.9,233.0 425.7,238.6 427.6,245.9 428.5,248.3 429.4,249.6 430.3,248.1 431.2,245.9 433.1,240.4 434.0,239.5 434.9,238.6 436.8,233.0 438.6,227.5 439.6,226.0 440.5,224.7 441.4,224.1 442.3,221.9 443.3,222.4 444.2,222.9 445.1,221.3 446.0,220.1 446.9,220.8 447.9,221.0 448.8,219.5 449.7,219.2 450.6,220.9 451.6,221.9 453.4,227.5 454.3,228.1 455.3,228.4 456.2,229.2 457.1,229.3 458.0,229.2 458.9,228.4 460.0,231.4 460.9,230.7 461.8,230.5 462.8,232.7 463.7,233.3 464.6,235.1 465.5,237.0 466.5,237.2 467.4,236.1 468.3,238.8 469.2,239.8 471.1,245.3 472.9,252.7 474.8,260.1 476.6,267.5 478.5,278.6 479.9,285.9 481.2,282.2 482.5,274.9 484.0,278.6 484.9,271.2 486.2,264.7 487.7,260.1 489.2,256.4 490.5,252.7 491.4,250.8 492.3,250.9 494.2,245.3 495.1,244.3 496.0,242.5 496.9,241.2 497.9,238.8 498.8,238.4 499.7,239.8 500.6,240.8 501.5,243.5 502.5,245.2 503.4,247.2 504.3,246.3 505.2,246.2 506.2,243.7 507.1,242.5 508.9,237.9 509.9,236.1 510.8,234.2 511.7,232.8 512.6,230.5 513.6,229.3 514.5,227.8 515.4,228.2 516.3,226.8 517.2,228.2 518.2,227.8 519.1,228.4 520.0,229.6 520.9,230.6 521.9,232.4 522.8,233.1 523.7,233.3 524.6,232.7 525.6,232.4 526.5,231.2 527.4,231.5 528.3,230.8 529.2,230.5 530.2,232.8 531.1,234.2 532.4,239.8 533.9,245.3 535.3,250.9 536.6,255.5 537.9,253.6 539.0,257.3 540.3,261.9 541.6,265.6 543.1,267.5 544.6,271.2 545.9,270.2 547.2,268.4 548.3,269.3"/>
<polyline class="ln" stroke="#999933" points="96.3,135.2 98.6,132.8 100.9,134.4 103.3,139.9 105.6,144.6 108.8,148.5 111.9,153.2 114.2,159.4 115.8,165.7 117.4,164.1 118.9,170.3 120.5,173.5 122.8,170.3 125.2,171.1 127.5,173.5 129.9,177.4 131.4,181.3 133.0,186.0 135.3,187.5 137.7,185.2 140.0,183.6 142.4,178.9 143.9,171.9 145.5,164.1 147.1,157.8 149.4,154.7 150.7,157.0 151.0,159.4 151.8,154.7 153.3,146.9 155.7,139.1 158.0,135.2 160.4,134.4 162.7,136.7 165.1,139.1 167.4,143.0 169.7,146.1 172.1,146.9 174.4,145.3 176.8,146.1 179.9,146.9 182.3,146.9 183.8,143.8 186.0,122.9 187.0,119.9 188.0,108.9 189.0,98.9 189.9,91.0 190.7,88.0 191.9,87.2 193.4,88.5 194.9,91.0 196.4,94.9 197.9,98.9 199.4,102.9 200.9,105.9 202.4,108.9 203.9,110.9 205.4,115.9 206.4,119.9 207.2,117.0 208.8,122.8 210.6,129.2 212.7,134.9 214.4,140.0 216.1,145.8 216.1,158.6 217.1,164.9 219.0,171.3 220.3,179.0 221.6,186.7 222.8,194.4 224.1,202.0 224.1,204.6 224.9,207.2 225.8,208.8 226.6,208.5 227.5,209.9 228.4,210.2 229.2,210.6 230.1,211.5 231.4,213.2 231.8,217.6 232.7,221.9 233.1,226.2 233.5,228.0 234.4,232.5 236.2,237.1 237.1,238.9 238.0,239.5 239.4,235.3 240.3,231.6 241.6,233.0 242.5,234.1 243.5,236.2 244.4,237.8 245.3,238.9 246.2,238.2 247.1,238.0 248.0,239.5 248.9,241.6 250.3,246.2 251.6,251.6 253.0,257.6 254.4,262.5 255.7,258.9 257.1,258.0 258.0,263.1 258.9,266.2 259.8,262.5 260.7,264.4 261.6,266.2 262.5,260.7 263.9,255.3 264.8,257.1 265.7,259.8 267.1,258.0 268.5,253.5 269.6,249.8 270.7,246.2 271.6,238.9 272.5,233.5 273.3,228.9 274.0,231.0 275.1,228.3 276.2,223.3 278.0,213.1 278.9,209.4 279.8,207.0 280.7,206.0 281.6,203.8 282.5,203.3 284.0,202.5 285.3,200.0 286.4,197.7 287.6,195.5 288.4,193.5 289.3,192.0 291.0,186.4 291.8,185.2 292.7,184.1 293.5,183.9 294.4,183.0 295.2,181.7 296.1,180.7 297.2,181.6 298.4,181.8 299.5,181.0 300.6,180.7 301.8,181.4 302.9,181.2 304.0,181.6 305.2,182.4 306.3,180.7 307.5,180.1 308.6,180.1 309.7,179.0 310.9,178.8 312.0,177.7 313.1,178.7 314.3,179.0 315.4,179.6 316.5,180.1 317.7,181.9 318.8,183.0 320.0,184.2 321.1,185.8 322.2,187.1 323.4,188.1 324.2,188.9 325.1,190.3 326.7,195.7 327.6,196.0 328.4,198.0 329.5,199.0 330.7,201.4 331.8,203.5 333.0,204.8 334.1,205.8 335.2,205.9 336.4,204.3 337.5,204.8 338.6,205.9 339.8,207.0 340.9,208.7 342.0,210.5 343.8,216.1 344.9,223.0 346.0,228.6 347.2,232.0 348.3,225.2 349.4,221.8 350.6,224.1 351.4,220.7 353.4,216.1 354.5,214.4 355.7,211.6 356.8,208.2 358.0,210.5 359.1,210.7 360.2,209.9 361.4,209.7 362.5,208.8 363.4,209.1 364.2,208.2 365.1,207.8 365.9,205.9 366.8,206.8 367.6,208.2 368.8,203.6 370.0,198.9 371.0,196.9 372.0,194.6 373.0,191.4 374.0,188.3 374.8,186.2 375.6,185.0 376.8,182.0 378.6,176.5 380.5,171.9 381.4,170.4 382.3,169.1 383.2,168.1 384.2,167.2 385.1,167.8 386.0,167.8 386.9,168.2 387.9,168.7 388.8,169.7 389.7,170.0 390.6,169.0 391.5,168.2 392.5,168.3 393.4,168.2 394.3,169.5 395.2,170.9 396.2,172.5 397.1,174.6 398.9,179.2 400.8,183.9 401.7,184.5 402.6,185.7 404.5,190.3 406.0,196.7 408.0,204.1 409.6,211.0 410.9,216.4 411.9,217.8 412.8,217.2 413.7,218.2 414.6,216.4 415.6,214.1 416.5,212.7 417.4,212.2 418.3,211.1 419.2,209.9 420.2,210.2 421.1,209.9 422.0,209.9 422.9,212.1 423.9,212.7 424.8,212.9 425.7,213.6 426.6,215.0 427.6,216.4 428.5,217.4 429.4,220.1 431.2,225.6 432.2,223.4 433.1,221.9 434.9,217.3 436.1,215.6 437.2,214.2 438.4,214.0 439.6,212.3 440.5,211.4 441.4,211.4 442.3,210.9 443.3,213.4 444.2,214.5 446.0,219.2 446.9,220.4 447.9,221.9 448.8,219.9 449.7,220.1 450.6,218.7 451.6,218.2 452.5,218.9 453.4,220.1 454.9,212.7 456.2,207.2 457.1,205.8 458.0,205.3 458.9,206.1 459.9,206.2 460.8,212.7 462.6,220.1 464.5,224.7 465.4,225.5 466.3,227.5 467.3,228.9 468.2,229.3 469.1,230.9 470.0,231.2 471.0,233.2 471.9,234.9 473.7,240.4 475.6,245.0 476.6,247.4 477.5,248.1 478.5,246.6 479.4,245.3 480.3,247.1 481.2,248.1 482.2,249.8 483.1,250.9 484.9,246.2 485.9,244.5 486.8,243.5 487.7,244.2 488.6,245.3 489.5,244.0 490.5,242.5 491.8,237.9 493.2,232.4 494.7,226.8 496.0,225.0 496.9,227.4 497.9,228.7 499.1,234.2 500.6,238.8 502.1,242.5 503.4,236.1 504.7,230.5 505.8,226.5 505.8,223.9 507.1,220.2 508.4,214.6 509.9,207.2 511.7,202.6 512.6,200.7 513.6,199.9 514.5,199.6 515.4,199.5 516.3,200.4 517.2,201.7 518.2,202.7 519.1,205.4 520.0,204.4 520.9,203.6 521.9,201.6 522.8,199.9 523.7,198.2 524.6,198.0 525.6,198.3 526.5,198.9 528.3,203.6 529.2,206.0 530.2,207.2 531.1,209.2 532.0,210.0 533.9,214.6 535.7,220.2 537.2,225.7 538.5,228.7 539.8,232.4 541.2,236.1 542.7,241.6 544.0,249.0 545.3,253.6 546.8,251.8 548.3,251.8"/>
<polyline class="ln" stroke="#AA4499" points="96.3,123.5 98.6,125.0 100.9,129.7 103.3,135.2 105.6,142.2 108.0,148.5 110.3,156.3 112.7,164.1 112.7,159.4 114.2,168.8 116.6,176.6 118.9,183.6 121.3,188.3 123.1,195.0 125.2,192.2 127.5,189.9 129.9,183.6 131.4,186.0 133.8,186.7 135.3,183.6 136.9,185.2 139.3,188.3 140.8,187.5 142.4,192.2 143.5,196.1 144.7,189.1 146.3,181.3 148.6,173.5 151.0,167.2 152.5,162.5 153.3,162.5 154.9,153.9 156.5,146.9 158.8,143.8 161.1,146.1 163.5,148.5 165.8,151.6 167.4,155.5 169.0,151.6 171.3,153.9 173.7,150.0 176.0,148.5 178.3,150.0 179.9,148.5 181.5,151.6 183.0,148.5 184.6,142.2 186.2,132.8 187.7,123.5 189.3,115.6 189.9,109.9 190.9,101.9 191.9,96.9 193.4,94.9 194.9,97.9 196.4,101.9 197.9,105.9 199.4,108.9 200.9,111.9 202.4,114.9 203.9,117.9 205.9,121.5 207.8,129.2 209.7,136.8 211.0,143.2 212.3,150.9 214.2,158.6 216.1,165.0 216.1,162.4 217.1,167.5 219.7,168.8 221.6,171.3 222.8,177.7 224.1,184.1 226.0,191.8 226.2,200.3 227.5,202.0 228.8,200.3 230.1,198.6 230.5,202.9 231.4,207.2 232.2,209.8 233.1,213.2 234.0,218.9 235.2,221.0 236.5,219.0 237.8,223.0 238.8,226.0 239.8,228.0 241.2,233.5 242.5,237.1 243.9,233.5 245.3,231.6 246.2,237.1 246.6,241.6 247.5,237.1 248.5,233.5 249.4,237.1 250.7,241.6 251.6,237.1 252.5,233.5 253.9,238.9 255.3,235.3 256.2,241.6 257.1,248.9 258.0,255.6 258.9,246.2 259.4,238.9 260.3,233.5 261.2,239.8 262.1,246.2 263.0,240.3 263.9,237.1 264.8,244.4 265.7,249.8 266.6,254.4 267.5,248.9 268.9,248.0 269.8,253.5 270.7,248.9 271.6,252.5 272.5,255.3 273.5,254.4 273.9,261.6 274.4,264.4 274.8,255.3 275.3,246.2 276.2,239.8 277.5,239.8 278.0,234.2 278.5,228.0 278.9,225.0 280.0,220.0 280.7,223.3 282.0,215.2 283.2,209.0 284.0,203.5 284.7,200.0 286.4,193.2 288.1,188.6 289.0,187.8 289.8,187.5 290.7,188.6 291.5,189.8 292.4,191.4 293.2,193.2 294.1,194.1 295.0,195.5 295.8,195.7 296.7,197.7 297.5,195.6 298.4,194.3 300.1,188.6 301.2,183.0 302.3,177.3 303.5,172.2 304.3,171.0 305.2,170.5 306.0,171.1 306.9,171.6 307.7,173.1 308.6,174.4 309.4,176.2 310.3,177.8 311.1,178.5 312.0,179.4 313.1,178.4 314.3,183.0 315.4,179.5 316.3,178.3 317.1,177.3 318.0,176.7 318.8,176.1 320.0,173.9 320.8,172.8 321.7,171.6 322.5,171.7 323.4,172.2 324.2,173.5 325.1,174.4 326.2,175.6 327.3,179.5 328.5,184.1 329.6,188.6 330.8,190.9 332.5,186.4 333.3,184.5 334.2,183.0 335.0,181.5 335.9,180.7 337.0,183.9 338.1,187.5 339.3,192.0 339.3,194.5 340.9,199.1 341.8,200.7 342.6,202.5 343.5,201.8 344.3,200.8 345.2,200.7 346.0,201.4 346.9,200.5 347.7,199.7 348.9,199.1 349.8,202.5 350.9,207.0 352.3,211.6 353.4,216.1 354.8,217.8 356.2,213.9 357.4,210.5 358.5,213.9 359.1,217.3 359.9,217.0 360.8,216.1 361.6,214.3 362.5,212.7 363.4,210.1 364.2,209.3 365.3,212.7 366.5,217.3 367.6,213.9 368.8,209.3 369.9,207.0 371.0,204.8 372.7,200.2 373.9,195.7 375.0,191.5 375.0,181.4 376.8,172.8 378.6,167.2 379.5,165.7 380.5,163.6 381.4,161.7 382.3,159.9 383.2,158.7 384.2,157.1 385.1,156.6 386.0,156.0 386.9,155.2 387.9,157.2 388.8,158.9 389.7,160.4 390.6,161.7 391.5,162.3 392.5,162.9 393.4,163.6 394.3,164.0 395.2,164.5 396.2,166.0 397.1,167.2 398.0,167.7 398.9,169.1 399.9,169.5 400.8,169.8 401.7,170.0 402.6,171.4 403.6,173.7 405.4,180.2 407.2,187.6 407.2,194.2 409.1,199.8 410.9,205.3 411.9,207.6 412.8,209.0 413.7,208.3 414.6,207.2 416.5,201.6 417.4,200.0 418.3,197.9 419.2,197.1 420.2,197.0 421.1,198.4 422.0,200.7 422.9,201.7 423.9,203.5 424.8,203.1 425.7,202.5 426.6,204.2 427.6,205.3 428.5,208.1 429.4,209.0 431.2,216.4 433.1,221.9 434.0,218.2 435.9,207.2 437.7,199.8 438.6,199.8 439.6,198.8 440.5,200.6 441.4,201.6 442.3,200.1 443.3,199.8 444.2,198.4 445.1,196.1 446.0,190.5 447.5,186.5 447.9,181.1 448.8,181.5 449.7,182.1 450.6,182.0 451.6,184.0 452.5,185.7 453.4,190.3 455.0,194.2 456.5,191.5 458.0,190.5 458.9,191.6 459.9,191.5 460.8,190.5 461.7,189.6 462.6,189.6 463.6,188.7 464.5,187.7 465.4,187.8 465.4,187.9 466.5,192.5 468.3,199.9 470.2,205.4 471.1,208.0 472.0,209.1 472.9,210.4 473.8,212.8 474.8,212.8 475.7,213.7 477.0,218.3 478.5,214.6 479.9,216.5 481.2,212.8 482.5,209.1 484.0,207.2 485.5,211.9 486.8,214.6 487.7,214.5 488.6,213.7 489.9,217.4 491.4,214.6 492.9,210.9 494.2,205.4 495.5,198.9 496.9,198.0 498.4,195.2 499.7,201.7 501.0,205.4 502.5,210.9 503.6,214.6 504.7,205.4 506.2,196.2 507.6,189.7 508.6,188.3 509.5,187.9 510.4,187.6 511.3,186.9 512.3,186.0 513.2,184.2 515.0,179.5 516.9,174.0 518.7,169.4 519.6,171.1 520.6,173.1 521.5,173.4 522.4,174.0 523.7,177.7 524.6,181.4 526.1,174.0 527.0,172.2 528.0,170.3 529.2,175.9 530.5,179.5 532.0,185.1 533.5,190.6 534.8,196.2 535.7,196.1 536.6,195.2 537.6,194.3 538.5,194.3 539.8,201.7 540.9,209.1 542.2,210.9 543.5,218.3 544.9,223.9 546.4,220.2 547.7,222.0 548.3,223.5"/>
<polyline class="ln" stroke="#DDDDDD" points="96.3,118.0 98.6,120.3 100.9,127.4 104.1,133.6 107.2,137.5 110.3,137.8 113.5,137.5 115.0,142.2 116.6,151.6 117.8,161.0 118.1,157.8 119.7,167.2 120.5,175.0 122.1,180.5 124.4,179.7 126.0,182.8 127.5,189.1 129.9,190.7 131.4,186.0 133.0,178.9 134.6,177.4 136.1,173.5 137.7,175.0 139.3,170.3 140.8,165.6 143.2,160.9 145.5,156.3 146.3,157.9 149.4,154.7 151.8,151.6 153.3,145.3 154.9,139.1 157.2,133.6 159.6,128.9 161.1,127.4 162.7,130.5 165.1,133.6 166.6,139.1 168.2,145.3 169.7,153.2 170.5,158.6 172.1,151.6 173.7,140.7 175.2,131.3 176.8,129.7 178.3,134.4 179.9,137.5 182.3,136.7 183.8,133.6 185.4,128.1 187.0,119.9 188.5,105.9 189.9,95.9 191.4,88.0 192.9,84.0 194.4,83.0 196.4,85.0 197.9,89.0 199.4,93.0 200.9,97.9 202.4,101.9 203.9,104.9 205.4,107.9 206.9,112.9 208.4,117.9 210.4,121.5 212.3,127.9 214.2,134.3 215.5,139.4 216.7,144.5 217.8,140.7 218.7,143.2 219.9,148.4 221.2,152.2 222.5,158.6 223.8,161.1 225.7,157.3 226.0,157.9 227.3,161.1 229.2,166.2 230.5,175.2 231.2,184.1 231.8,193.1 232.4,198.2 233.1,197.7 234.0,202.9 234.4,208.1 234.8,215.0 235.3,221.9 235.6,227.0 236.0,221.9 236.6,213.2 237.2,206.8 239.1,206.8 239.6,213.2 240.0,219.3 240.9,219.7 243.0,220.1 243.9,223.6 244.3,230.5 244.5,240.0 244.5,403.5 253.6,403.5 254.0,290.0 255.4,245.0 256.4,228.0 257.6,214.0 258.4,207.0 262.9,207.0 263.4,212.0 263.8,219.7 267.2,219.7 267.6,228.0 268.0,242.0 277.2,242.0 277.6,260.0 277.8,403.5 278.8,403.5 279.4,300.0 280.3,240.0 281.4,215.0 282.5,200.0 283.6,189.8 284.7,179.5 285.9,171.6 287.6,164.8 289.0,158.0 290.2,162.5 291.3,164.8 292.7,165.3 293.8,168.8 295.0,173.9 295.9,179.5 296.7,183.0 297.8,183.5 298.6,178.4 299.5,172.7 300.6,165.9 301.8,161.4 302.9,155.7 304.0,153.4 305.8,154.5 307.5,155.7 308.8,155.1 309.7,159.1 310.6,163.6 311.4,167.6 312.0,172.2 312.9,172.7 313.7,169.9 314.8,167.0 316.0,164.8 317.1,161.9 318.2,159.1 319.4,157.4 320.5,154.5 321.7,151.7 322.3,149.2 324.2,144.6 326.9,144.6 328.8,149.2 330.6,158.5 332.5,164.0 334.3,167.7 336.2,168.6 338.0,173.2 339.9,178.8 341.7,180.6 341.8,179.1 343.6,180.9 345.4,175.4 347.2,171.8 348.2,177.2 349.1,188.1 350.0,199.0 350.9,208.0 351.8,217.1 352.3,230.0 352.6,242.0 353.6,242.0 354.0,220.7 360.2,220.7 360.6,207.0 361.0,197.5 361.5,207.0 361.9,220.7 365.8,220.7 366.5,235.0 367.0,403.5 374.4,403.5 374.8,260.0 375.3,215.0 375.3,180.2 375.9,167.2 376.8,158.0 377.7,151.5 379.5,147.9 381.4,145.1 382.9,140.5 384.7,141.4 386.0,136.8 387.9,130.3 389.7,125.7 391.5,122.9 392.8,123.3 393.9,130.3 395.2,139.5 396.2,146.9 397.1,154.3 398.4,161.7 399.9,165.4 401.7,162.6 403.6,160.8 405.0,159.9 406.0,165.4 407.2,172.8 408.7,178.3 410.0,180.2 411.9,172.8 413.2,169.1 414.6,171.9 415.9,168.2 417.4,172.8 418.7,182.0 419.8,187.6 421.1,183.9 422.4,178.3 423.9,172.8 425.7,170.9 427.6,169.1 429.0,165.4 430.3,170.9 431.6,174.6 433.1,180.2 434.6,185.7 435.9,191.1 436.4,205.0 436.8,220.0 439.0,220.0 439.5,205.0 440.5,191.1 441.4,185.7 443.3,180.2 445.1,176.5 446.0,175.6 447.5,182.0 448.8,187.6 449.7,191.1 450.2,198.0 454.6,198.0 455.3,191.1 456.2,183.9 457.1,174.6 458.0,167.2 458.9,159.9 460.4,154.3 461.7,150.6 463.6,147.9 464.9,151.5 466.0,158.0 466.7,167.2 467.8,178.3 468.6,187.6 468.6,186.9 469.6,205.4 471.1,223.9 472.2,240.0 472.6,403.5 473.2,403.5 473.6,242.0 475.8,242.0 476.3,220.0 478.8,220.0 479.3,242.0 481.5,242.0 481.8,223.9 482.5,205.4 483.6,196.2 484.9,201.7 485.9,192.5 487.3,189.7 488.6,196.2 489.5,205.4 490.5,196.2 491.4,183.2 492.9,174.0 494.2,168.5 495.5,168.5 496.9,174.0 498.4,181.4 499.7,188.8 501.0,198.0 502.1,205.4 502.8,196.2 503.9,183.2 505.2,175.9 506.5,168.5 507.6,162.9 508.9,158.3 510.2,166.6 511.3,170.3 512.6,162.9 513.9,166.6 515.4,161.1 516.9,153.7 518.2,150.9 520.0,150.0 521.9,151.8 523.7,157.4 525.6,158.3 527.4,162.0 529.2,166.6 531.1,172.2 532.9,177.7 533.9,186.9 535.3,196.2 536.6,198.0 538.5,199.9 539.8,205.4 541.2,214.6 542.7,223.9 544.0,231.0 544.6,236.0 545.0,242.0 545.6,242.0 546.0,230.0 546.6,214.0 547.2,207.0 548.3,207.0"/>
</g>
<text x="97.00" y="382.10" style="font-size:13.89px;fill:#808080;">bron: RIVM update 2023-04-04</text>
<line x1="73.4" x2="571" y1="403" y2="403" stroke="#868686" stroke-width="2"/>
<line x1="66" x2="74" y1="49.00" y2="49.00" stroke="#262626" stroke-width="2"/>
<text class="tk" x="35.60" y="56.00" style="letter-spacing:-1.70px">10</text><text class="sup" x="53.70" y="49.90">4</text>
<line x1="66" x2="74" y1="122.00" y2="122.00" stroke="#262626" stroke-width="2"/>
<text class="tk" x="35.60" y="129.00" style="letter-spacing:-1.70px">10</text><text class="sup" x="53.70" y="122.90">3</text>
<line x1="66" x2="74" y1="196.00" y2="196.00" stroke="#262626" stroke-width="2"/>
<text class="tk" x="35.60" y="203.00" style="letter-spacing:-1.70px">10</text><text class="sup" x="53.70" y="196.90">2</text>
<line x1="66" x2="74" y1="270.00" y2="270.00" stroke="#262626" stroke-width="2"/>
<text class="tk" x="35.60" y="277.00" style="letter-spacing:-1.70px">10</text><text class="sup" x="53.70" y="270.90">1</text>
<line x1="66" x2="74" y1="362.00" y2="362.00" stroke="#262626" stroke-width="2"/>
<text class="tk" x="35.60" y="369.00" style="letter-spacing:-1.70px">10</text><text class="sup" x="53.70" y="362.90">0</text>
<line x1="66" x2="74" y1="403.00" y2="403.00" stroke="#262626" stroke-width="2"/>
<text class="tk" x="51.90" y="408.60">0</text>
<line x1="126.00" x2="126.00" y1="403" y2="411" stroke="#262626" stroke-width="2"/>
<text class="tk" x="126.00" y="428.30" text-anchor="middle">2022</text>
<line x1="180.00" x2="180.00" y1="403" y2="411" stroke="#262626" stroke-width="2"/>
<text class="tk" x="180.00" y="428.30" text-anchor="middle">Mar</text>
<line x1="237.00" x2="237.00" y1="403" y2="411" stroke="#262626" stroke-width="2"/>
<text class="tk" x="237.00" y="428.30" text-anchor="middle">May</text>
<line x1="294.00" x2="294.00" y1="403" y2="411" stroke="#262626" stroke-width="2"/>
<text class="tk" x="294.00" y="428.30" text-anchor="middle">Jul</text>
<line x1="351.00" x2="351.00" y1="403" y2="411" stroke="#262626" stroke-width="2"/>
<text class="tk" x="351.00" y="428.30" text-anchor="middle">Sep</text>
<line x1="408.00" x2="408.00" y1="403" y2="411" stroke="#262626" stroke-width="2"/>
<text class="tk" x="408.00" y="428.30" text-anchor="middle">Nov</text>
<line x1="464.00" x2="464.00" y1="403" y2="411" stroke="#262626" stroke-width="2"/>
<text class="tk" x="464.00" y="428.30" text-anchor="middle">2023</text>
<line x1="519.00" x2="519.00" y1="403" y2="411" stroke="#262626" stroke-width="2"/>
<text class="tk" x="519.00" y="428.30" text-anchor="middle">Mar</text>
<rect x="595.6" y="33.5" width="100" height="230.6" rx="3" ry="3" fill="#fff" fill-opacity="0.8" stroke="#cccccc" stroke-width="1.1"/>
<line x1="600" x2="633" y1="46.00" y2="46.00" stroke="#CC6677" stroke-width="2"/>
<text class="lg" x="644.00" y="51.30">0-9</text>
<line x1="600" x2="633" y1="69.00" y2="69.00" stroke="#332288" stroke-width="2"/>
<text class="lg" x="644.00" y="74.30">10-19</text>
<line x1="600" x2="633" y1="91.00" y2="91.00" stroke="#DDCC77" stroke-width="2"/>
<text class="lg" x="644.00" y="96.30">20-29</text>
<line x1="600" x2="633" y1="114.00" y2="114.00" stroke="#117733" stroke-width="2"/>
<text class="lg" x="644.00" y="119.30">30-39</text>
<line x1="600" x2="633" y1="137.00" y2="137.00" stroke="#88CCEE" stroke-width="2"/>
<text class="lg" x="644.00" y="142.30">40-49</text>
<line x1="600" x2="633" y1="159.00" y2="159.00" stroke="#882255" stroke-width="2"/>
<text class="lg" x="644.00" y="164.30">50-59</text>
<line x1="600" x2="633" y1="182.00" y2="182.00" stroke="#44AA99" stroke-width="2"/>
<text class="lg" x="644.00" y="187.30">60-69</text>
<line x1="600" x2="633" y1="204.00" y2="204.00" stroke="#999933" stroke-width="2"/>
<text class="lg" x="644.00" y="209.30">70-79</text>
<line x1="600" x2="633" y1="227.00" y2="227.00" stroke="#AA4499" stroke-width="2"/>
<text class="lg" x="644.00" y="232.30">80-89</text>
<line x1="600" x2="633" y1="250.00" y2="250.00" stroke="#DDDDDD" stroke-width="2"/>
<text class="lg" x="644.00" y="255.30">90+</text>
</svg></body></html>
